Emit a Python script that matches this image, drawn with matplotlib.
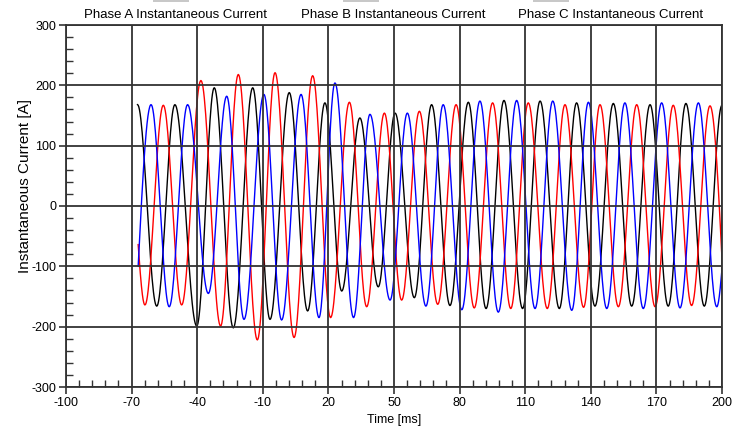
import numpy as np
import matplotlib
matplotlib.use("Agg")
import matplotlib.pyplot as plt
from matplotlib.ticker import FixedLocator, AutoMinorLocator
from matplotlib.patches import Rectangle

plt.rcParams['font.family'] = ['Liberation Sans', 'DejaVu Sans']
plt.rcParams['axes.unicode_minus'] = False

# ---- data (knot times in ms, values in A) ----
phase_a_t = [-67.3, -58.5, -50.2, -40.2, -32.2, -23.5, -14.6, -6.7, 2.1, 10.5, 18.4, 26.1,
             34.4, 42.8, 50.5, 59.3, 67.2, 75.6, 84.0, 92.1, 100.3, 108.8, 116.8, 125.6,
             133.5, 141.9, 150.3, 158.7, 167.1, 175.4, 183.5, 191.9, 200.0]
phase_a_v = [168, -166, 168, -199, 196, -202, 196, -188, 188, -174, 171, -141,
             146, -134, 154, -152, 168, -165, 172, -170, 175, -170, 174, -170,
             171, -166, 170, -166, 168, -166, 170, -166, 167]

phase_b_t = [-67.0, -63.9, -55.5, -47.1, -38.3, -29.3, -21.2, -12.5, -4.4, 4.3, 12.8, 21.0,
             29.6, 37.5, 45.6, 53.5, 61.6, 70.0, 78.4, 86.7, 95.1, 103.4, 111.4, 120.1,
             128.2, 136.7, 144.2, 152.6, 161.0, 169.4, 177.7, 186.1, 194.5, 200.0]
phase_b_v = [-64, -164, 167, -164, 208, -199, 218, -222, 221, -218, 216, -185,
             172, -167, 154, -156, 157, -163, 168, -169, 171, -170, 171, -170,
             168, -168, 168, -167, 168, -167, 167, -165, 166, -88]

phase_c_t = [-67.0, -61.1, -52.8, -44.4, -34.9, -26.5, -18.6, -9.5, -1.4, 7.5, 15.7, 23.0,
             31.5, 39.0, 48.2, 56.1, 64.6, 72.5, 81.0, 89.3, 97.7, 106.1, 114.5, 122.6,
             131.3, 138.9, 147.3, 155.6, 164.0, 172.4, 180.8, 189.2, 197.6, 200.0]
phase_c_v = [-100, 168, -167, 168, -145, 182, -188, 185, -189, 185, -185, 204,
             -185, 152, -156, 154, -166, 168, -172, 174, -176, 175, -170, 174,
             -173, 172, -170, 171, -170, 171, -169, 171, -167, -104]

series_names = ["Phase A Instantaneous Current", "Phase B Instantaneous Current",
                "Phase C Instantaneous Current"]
x_ticks = [-100, -70, -40, -10, 20, 50, 80, 110, 140, 170, 200]
y_ticks = [-300, -200, -100, 0, 100, 200, 300]


def smooth_curve(ts, vs, n=30):
    """Join read extrema with cosine-shaped half cycles."""
    out_t, out_v = [], []
    m = len(ts)
    for i in range(m - 1):
        t0, t1, v0, v1 = ts[i], ts[i + 1], vs[i], vs[i + 1]
        s = np.linspace(0, 1, n)
        if i == 0 and abs(v0) < 0.9 * abs(v1):
            f = np.sin(np.pi / 2 * s)
        elif i == m - 2 and abs(v1) < 0.9 * abs(v0):
            f = 1 - np.cos(np.pi / 2 * s)
        else:
            f = (1 - np.cos(np.pi * s)) / 2
        out_t.append(t0 + (t1 - t0) * s)
        out_v.append(v0 + (v1 - v0) * f)
    return np.concatenate(out_t), np.concatenate(out_v)


fig = plt.figure(figsize=(7.45, 4.29), dpi=100)
ax = fig.add_axes([66 / 745, 1 - 387 / 429, 656 / 745, 362 / 429])

colors = ["#000000", "#ff0000", "#0000ff"]
for (ts, vs), c in zip([(phase_a_t, phase_a_v), (phase_b_t, phase_b_v),
                        (phase_c_t, phase_c_v)], colors):
    tt, vv = smooth_curve(ts, vs)
    ax.plot(tt, vv, color=c, lw=1.0, zorder=2)

ax.set_xlim(-100, 200)
ax.set_ylim(-300, 300)
ax.xaxis.set_major_locator(FixedLocator(x_ticks))
ax.yaxis.set_major_locator(FixedLocator(y_ticks))
ax.xaxis.set_minor_locator(FixedLocator(list(np.arange(-100, 201, 6))))
ax.yaxis.set_minor_locator(AutoMinorLocator(5))

ax.set_axisbelow(False)
ax.grid(True, which='major', color='#333333', lw=1.3)
for sp in ax.spines.values():
    sp.set_color('#333333')
    sp.set_linewidth(1.3)

ax.tick_params(which='major', direction='out', length=5, width=1.2, color='#333333',
               labelsize=9, pad=2)
ax.tick_params(which='minor', direction='in', length=5, width=1.0, color='#333333')

ax.set_xlabel("Time [ms]", fontsize=9)
ax.set_ylabel("Instantaneous Current [A]", fontsize=11)
ax.xaxis.set_label_coords(0.5, -0.075)
ax.yaxis.set_label_coords(-0.052, 0.554)

# legend row across the top
legend_centers = [175, 393, 611]
swatch_x = [153, 343, 533]
for name, cx, sx in zip(series_names, legend_centers, swatch_x):
    fig.text(cx / 745, 1 - 15 / 429, name, ha='center', va='center', fontsize=9.5)
    fig.patches.append(Rectangle((sx / 745, 1 - 1.5 / 429), 36 / 745, 1.5 / 429,
                                 transform=fig.transFigure, color='#c8c8c8', lw=0))

fig.savefig("out.png", dpi=100)
